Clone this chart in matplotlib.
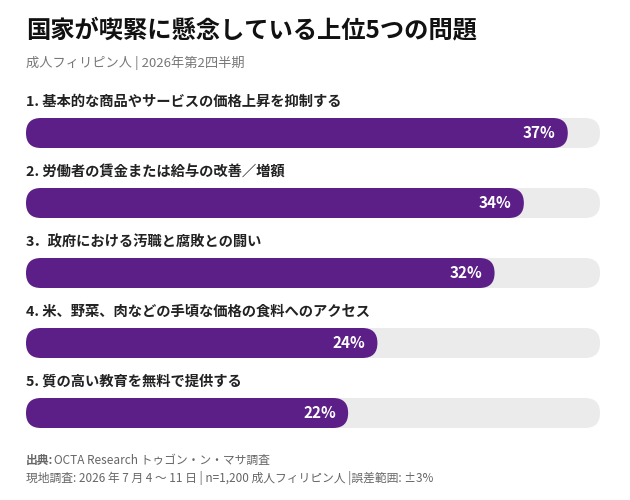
import matplotlib
matplotlib.use('Agg')
import matplotlib.pyplot as plt
from matplotlib.patches import FancyBboxPatch

plt.rcParams['font.family'] = ['Noto Sans CJK JP', 'DejaVu Sans']

labels = [
    '1. 基本的な商品やサービスの価格上昇を抑制する',
    '2. 労働者の賃金または給与の改善／増額',
    '3．政府における汚職と腐敗との闘い',
    '4. 米、野菜、肉などの手頃な価格の食料へのアクセス',
    '5. 質の高い教育を無料で提供する',
]
values = [37, 34, 32, 24, 22]
track_max = 39.2

purple = '#5B1F87'
track = '#EBEBEB'

W, H = 630, 500
fig = plt.figure(figsize=(W / 100, H / 100), dpi=100)
left, right = 26, 600
ax = fig.add_axes([left / W, 0, (right - left) / W, 1])
ax.set_xlim(0, track_max)
ax.set_ylim(H, 0)
ax.axis('off')

xunit = (right - left) / track_max  # px per percent
bar_h = 30
r = bar_h / 2

for i, (lab, v) in enumerate(zip(labels, values)):
    yc = 133 + 70 * i
    ax.text(0, yc - 31, lab, fontsize=10.3, fontweight='bold', color='#222222',
            va='center', ha='left')
    for w, c in [(track_max, track), (v, purple)]:
        p = FancyBboxPatch((0, yc - r), w, bar_h,
                           boxstyle=f'round,pad=0,rounding_size={r / xunit}',
                           mutation_aspect=xunit, fc=c, ec='none')
        ax.add_patch(p)
    ax.text(v - 12 / xunit, yc, f'{v}%', fontsize=11, fontweight='bold',
            color='white', va='center', ha='right')

fig.text(26 / W, 1 - 30 / H, '国家が喫緊に懸念している上位5つの問題', fontsize=17.5,
         fontweight='bold', color='#111111', va='center', ha='left')
fig.text(26 / W, 1 - 63 / H, '成人フィリピン人 | 2026年第2四半期', fontsize=9.5,
         color='#777777', va='center', ha='left')
fig.text(26 / W, 1 - 460 / H, '出典:', fontsize=8.5, fontweight='bold',
         color='#666666', va='center', ha='left')
fig.text(54 / W, 1 - 460 / H, 'OCTA Research トゥゴン・ン・マサ調査', fontsize=8.5,
         color='#666666', va='center', ha='left')
fig.text(26 / W, 1 - 478 / H,
         '現地調査: 2026 年 7 月 4 ～ 11 日 | n=1,200 成人フィリピン人 |誤差範囲: ±3%',
         fontsize=8.5, color='#666666', va='center', ha='left')

fig.savefig('out.png', dpi=100, facecolor='white')
